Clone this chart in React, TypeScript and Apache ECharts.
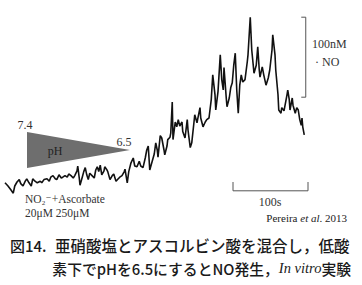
import React, { useEffect, useRef } from "react";
import * as echarts from "echarts";

// NO trace: time (s) and NO concentration (nM)
const timeS = [0,4,8,11,13,16,19,21,24,27,29,32,35,37,40,43,47,49,52,56,59,61,64,67,69,72,75,77,80,83,85,88,91,93,96,97,99,100,103,105,107,109,111,113,116,119,121,123,125,127,129,132,133,136,137,140,143,145,148,151,153,156,159,160,163,165,168,171,173,176,179,181,184,187,189,191,193,196,199,201,203,204,207,209,212,213,216,217,220,221,223,224,227,229,231,233,236,237,240,243,244,247,249,252,253,256,257,260,261,264,267,269,272,275,277,280,281,284,287,289,291,292,295,296,299,301,303,305,307,309,311,313,315,317,320,323,324,327,329,332,335,337,339,340,343,345,348,351,353,356,357,360,361,364,365,368,369,372,373,376,377,379,380,383,384,387,389,391,393,395,396,397,399];
const noNM = [9,5,0,-4,5,10,13,8,5,11,14,9,5,14,11,9,11,9,13,14,11,16,18,14,13,19,15,16,18,16,20,18,15,18,24,30,15,6,16,23,28,19,13,21,18,15,25,29,23,31,19,24,29,25,23,13,18,20,11,14,16,18,23,26,9,23,34,40,30,29,36,30,28,40,50,55,25,35,45,59,50,41,68,65,50,44,55,63,66,71,110,63,85,79,88,80,85,73,65,88,75,53,59,85,94,84,89,103,90,79,85,88,90,113,144,119,100,123,169,138,125,153,115,104,115,128,134,156,171,125,96,131,144,135,138,160,169,216,175,146,156,179,150,141,154,144,131,140,150,175,194,169,150,119,100,96,103,99,104,119,125,113,100,115,106,96,103,100,88,81,90,79,69];

// scale bars (100 nM vertical, 100 s horizontal)
const scaleNoX = [395, 401, 401, 395];
const scaleNoY = [216, 216, 116, 116];
const scaleTimeX = [304, 304, 404, 404];
const scaleTimeY = [10, -1, -1, 10];

const phLabels = ["7.4", "6.5"];
const caption1 = "亜硝酸塩とアスコルビン酸を混合し，低酸";
const caption2a = "素下でpHを6.5にするとNO発生，";
const caption2b = "In vitro";
const caption2c = "実験";

const serif = "'Liberation Serif', 'DejaVu Serif', serif";
const cjk = "'Noto Sans CJK JP', 'Noto Sans', sans-serif";

export default function App() {
  const ref = useRef<HTMLDivElement>(null);
  useEffect(() => {
    if (!ref.current) return;
    const chart = echarts.init(ref.current, undefined, { renderer: "svg" });
    const trace = timeS.map((t, i) => [t, noNM[i]]);
    const noBar = scaleNoX.map((t, i) => [t, scaleNoY[i]]);
    const tBar = scaleTimeX.map((t, i) => [t, scaleTimeY[i]]);
    const txt = (x: number, y: number, text: string, font: string, align = "left", fill = "#333", extra: any = {}) => ({
      type: "text",
      style: { x, y, text, font, fill, textAlign: align, textVerticalAlign: "middle", ...extra },
    });
    chart.setOption({
      animation: false,
      backgroundColor: "#ffffff",
      grid: { left: 5, top: 10, width: 307.5, height: 200 },
      xAxis: { type: "value", min: 0, max: 410, show: false },
      yAxis: { type: "value", min: -25, max: 225, show: false },
      series: [
        {
          type: "line",
          data: trace,
          symbol: "none",
          lineStyle: { color: "#111", width: 1.6 },
          z: 5,
        },
        {
          type: "line",
          data: noBar,
          symbol: "none",
          lineStyle: { color: "#555", width: 1 },
        },
        {
          type: "line",
          data: tBar,
          symbol: "none",
          clip: false,
          lineStyle: { color: "#555", width: 1 },
        },
      ],
      graphic: [
        {
          type: "polygon",
          shape: { points: [[27, 132], [27, 168], [130, 150]] },
          style: { fill: "#6e6e6e" },
        },
        txt(25, 125, phLabels[0], `12px ${serif}`, "center"),
        txt(124, 142, phLabels[1], `12px ${serif}`, "center"),
        txt(55, 151, "pH", `12px ${serif}`, "center", "#222"),
        txt(25, 199, "NO₂⁻+Ascorbate", `11.5px ${serif}`),
        txt(25, 213, "20μM 250μM", `11.5px ${serif}`),
        txt(312, 44, "100nM", `12px ${serif}`),
        txt(315, 62, "· NO", `12px ${serif}`),
        txt(270, 202, "100s", `12px ${serif}`, "center"),
        {
          type: "text",
          style: {
            x: 347, y: 218, text: "{a|Pereira }{i|et al}{a|. 2013}",
            textAlign: "right",
            textVerticalAlign: "middle",
            rich: {
              a: { font: `11px ${serif}`, fill: "#222" },
              i: { font: `italic 11px ${serif}`, fill: "#222" },
            },
          },
        },
        txt(10, 245, "図14.", `500 15px ${cjk}`, "left", "#1a1a1a"),
        txt(55, 245, caption1, `500 15.5px ${cjk}`, "left", "#1a1a1a"),
        {
          type: "text",
          style: {
            x: 351, y: 268,
            textAlign: "right",
            text: `{a|${caption2a}}{i|${caption2b}}{a|${caption2c}}`,
            textVerticalAlign: "middle",
            rich: {
              a: { font: `500 14.8px ${cjk}`, fill: "#1a1a1a" },
              i: { font: `italic 14.5px ${serif}`, fill: "#1a1a1a" },
            },
          },
        },
      ],
    });
    return () => chart.dispose();
  }, []);
  return (
    <div
      ref={ref}
      style={{ position: "fixed", left: 0, top: 0, width: 362, height: 285, background: "#fff" }}
    />
  );
}
